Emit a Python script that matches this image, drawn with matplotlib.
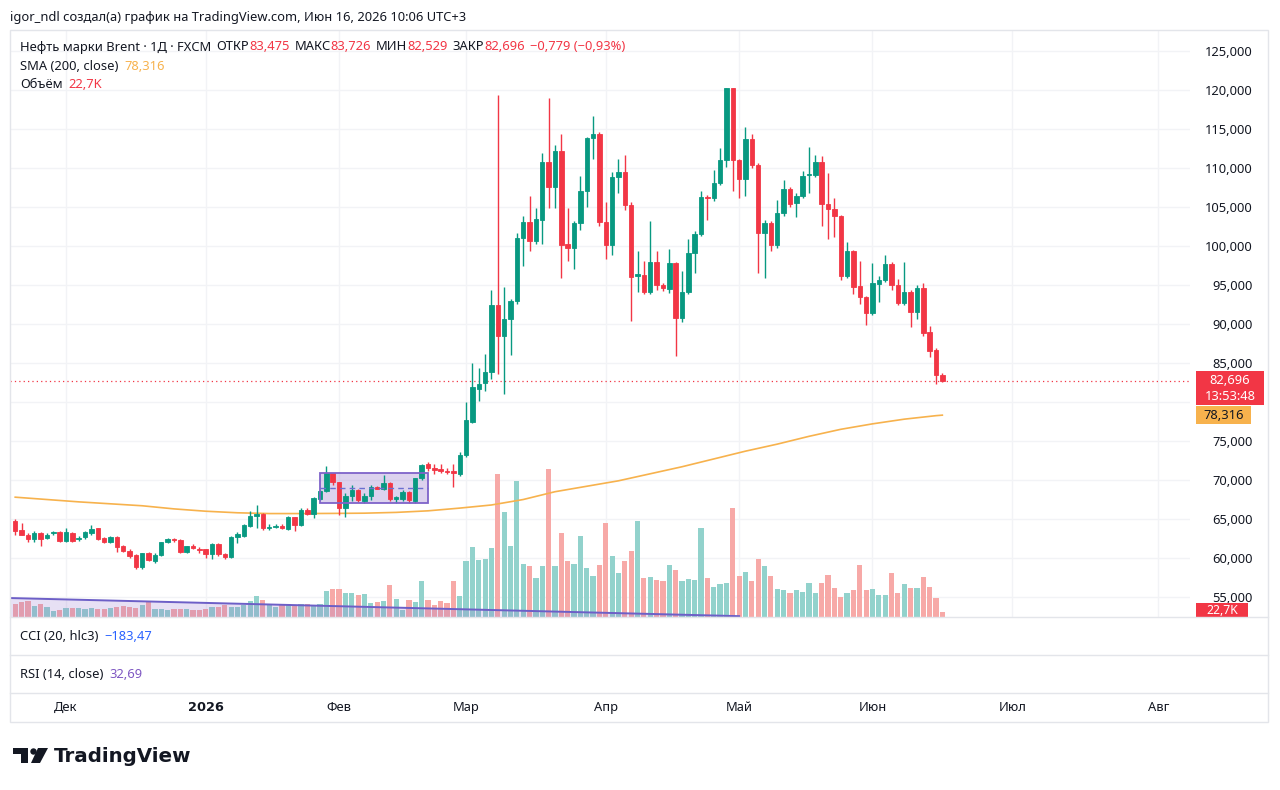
import numpy as np
import pandas as pd
import matplotlib
matplotlib.use("Agg")
import matplotlib.pyplot as plt
import matplotlib.transforms as mtransforms
from matplotlib.patches import Rectangle, Polygon, Circle
from matplotlib.ticker import FuncFormatter

plt.rcParams['font.family'] = ['Noto Sans', 'DejaVu Sans']

# --- daily candles, Brent (FXCM), 19 Nov 2025 .. 16 Jun 2026 ---
opens = [64.8, 63.6, 63.0, 62.5, 63.25, 62.55, 63.2, 63.4, 62.2, 63.25,
         62.4, 62.7, 63.2, 63.8, 62.55, 62.1, 62.65, 61.5, 60.9, 60.4,
         58.8, 60.6, 59.6, 60.4, 62.0, 62.4, 62.3, 60.8, 61.6, 61.2,
         61.1, 60.5, 61.75, 60.55, 60.1, 62.65, 62.8, 64.1, 65.4, 65.6,
         63.8, 64.0, 64.1, 63.7, 65.2, 64.2, 66.15, 65.6, 67.55, 68.6,
         70.85, 69.7, 66.4, 67.9, 68.7, 67.3, 67.9, 69.1, 68.85, 69.65,
         67.6, 67.6, 68.5, 67.3, 70.2, 72.0, 71.5, 71.4, 71.2, 71.15,
         70.8, 73.2, 77.5, 81.7, 82.4, 83.8, 92.5, 88.4, 90.6, 92.9,
         101.0, 103.1, 100.6, 103.3, 110.8, 107.6, 112.2, 100.3, 99.7, 102.9,
         107.0, 113.8, 114.4, 103.1, 100.1, 108.9, 109.5, 105.3, 96.1, 96.3,
         94.1, 97.9, 95.0, 94.5, 97.8, 90.8, 94.1, 99.1, 101.6, 106.3,
         106.1, 108.1, 111.0, 120.2, 111.0, 108.6, 113.7, 110.4, 101.7, 103.0,
         100.1, 104.2, 107.3, 105.5, 106.45, 109.1, 109.1, 110.8, 105.4, 104.8,
         103.9, 96.2, 99.4, 94.9, 93.4, 91.4, 95.1, 95.6, 97.7, 95.0,
         92.7, 94.06, 91.6, 94.65, 89.0, 86.7, 83.475]
highs = [65.0, 64.5, 63.2, 63.5, 63.4, 63.2, 63.5, 63.5, 63.9, 63.4,
         62.8, 63.5, 64.2, 63.9, 62.7, 62.8, 62.8, 61.7, 61.1, 60.5,
         60.7, 60.8, 60.6, 62.1, 62.6, 62.6, 62.4, 61.6, 61.8, 61.4,
         61.2, 61.9, 61.9, 60.7, 62.8, 63.4, 64.4, 66.0, 66.8, 65.8,
         64.3, 64.3, 64.3, 65.4, 65.3, 66.4, 66.4, 67.8, 68.7, 71.8,
         70.9, 69.8, 68.3, 69.4, 68.9, 68.3, 69.3, 69.2, 70.6, 69.7,
         67.9, 68.7, 68.6, 70.3, 72.0, 72.3, 72.1, 72.0, 71.6, 72.1,
         73.6, 80.0, 85.0, 84.3, 86.1, 94.3, 119.3, 94.8, 93.2, 101.7,
         103.8, 106.4, 104.9, 111.9, 119.0, 113.0, 114.3, 104.9, 103.2, 109.0,
         114.0, 116.7, 114.6, 105.7, 109.5, 111.2, 111.7, 105.6, 99.3, 98.1,
         103.2, 99.3, 95.3, 99.6, 98.0, 96.8, 100.9, 101.9, 107.1, 106.6,
         109.7, 112.5, 120.3, 120.3, 111.2, 115.2, 114.3, 110.6, 103.3, 103.2,
         105.9, 108.4, 107.6, 106.8, 109.6, 112.65, 111.7, 111.5, 109.3, 106.2,
         104.0, 100.5, 99.5, 98.1, 93.6, 97.8, 96.15, 98.9, 97.9, 95.8,
         98.0, 94.3, 95.0, 95.3, 89.7, 86.9, 83.726]
lows = [62.95, 62.9, 62.0, 62.0, 61.5, 62.4, 63.0, 62.1, 62.1, 62.1,
        62.2, 62.5, 63.0, 62.3, 61.9, 61.9, 60.8, 60.8, 60.0, 58.6,
        58.6, 59.6, 59.3, 60.3, 61.9, 62.1, 60.6, 60.7, 61.1, 60.6,
        60.0, 59.9, 60.3, 59.9, 60.0, 61.9, 62.7, 64.0, 63.8, 63.6,
        63.6, 63.9, 63.7, 63.6, 63.5, 64.1, 65.5, 65.1, 67.4, 68.5,
        69.3, 65.5, 65.3, 67.3, 67.2, 67.0, 67.4, 68.8, 68.7, 67.3,
        67.0, 67.3, 67.0, 67.1, 70.0, 71.2, 70.8, 70.9, 70.8, 69.15,
        70.5, 72.9, 77.3, 80.1, 81.4, 83.0, 83.6, 81.0, 86.0, 92.6,
        97.5, 99.4, 100.3, 100.3, 104.9, 104.9, 95.9, 98.1, 97.1, 102.0,
        105.0, 111.2, 102.6, 98.3, 98.9, 106.8, 104.6, 90.4, 94.1, 93.8,
        93.9, 94.3, 94.2, 94.0, 85.9, 90.3, 93.8, 96.5, 101.3, 103.3,
        105.8, 107.8, 110.1, 107.0, 106.2, 106.4, 110.0, 96.5, 95.9, 99.4,
        99.8, 103.9, 105.0, 103.75, 106.2, 106.8, 108.9, 102.5, 100.9, 101.2,
        95.7, 95.9, 93.9, 92.6, 89.9, 91.2, 92.8, 95.4, 94.4, 92.5,
        92.5, 89.6, 90.6, 88.4, 85.8, 82.3, 82.529]
closes = [63.5, 63.0, 62.4, 63.25, 62.5, 63.0, 63.35, 62.2, 63.4, 62.2,
          62.6, 63.4, 63.7, 62.4, 62.1, 62.7, 61.45, 60.9, 60.26, 58.8,
          60.6, 59.8, 60.4, 62.05, 62.4, 62.25, 60.8, 61.5, 61.25, 61.0,
          60.5, 61.75, 60.5, 60.1, 62.65, 63.1, 64.2, 65.4, 65.6, 63.8,
          64.0, 64.1, 63.85, 65.2, 64.2, 66.2, 65.6, 67.65, 68.6, 70.85,
          69.7, 66.35, 68.0, 68.7, 67.5, 67.9, 69.1, 68.9, 69.65, 67.6,
          67.8, 68.5, 67.45, 70.2, 71.9, 71.5, 71.3, 71.2, 71.0, 70.9,
          73.2, 77.7, 81.9, 82.37, 83.8, 92.5, 88.4, 90.7, 92.9, 101.0,
          103.1, 100.6, 103.4, 110.8, 107.6, 112.2, 100.1, 99.7, 103.0, 107.1,
          113.9, 114.4, 103.1, 100.1, 108.9, 109.5, 105.3, 96.0, 96.4, 94.1,
          97.9, 95.0, 94.65, 97.8, 90.8, 94.1, 99.1, 101.6, 106.3, 106.1,
          108.1, 111.0, 120.2, 111.0, 108.6, 113.7, 110.4, 101.7, 103.0, 100.1,
          104.2, 107.3, 105.4, 106.45, 109.0, 109.2, 110.8, 105.4, 104.75, 103.9,
          96.1, 99.4, 94.8, 93.4, 91.4, 95.2, 95.6, 97.7, 95.0, 92.7,
          94.06, 91.6, 94.65, 88.9, 86.5, 83.4, 82.696]
volumes_k = [59, 68, 72, 50, 59, 45, 27, 32, 41, 41,
             41, 36, 41, 36, 36, 41, 45, 50, 45, 41,
             54, 72, 36, 36, 32, 36, 36, 36, 32, 32,
             36, 45, 45, 54, 45, 45, 54, 72, 95, 77,
             54, 45, 59, 59, 54, 59, 59, 50, 59, 117,
             126, 126, 108, 108, 99, 104, 63, 68, 72, 144,
             81, 32, 77, 68, 162, 77, 54, 72, 63, 162,
             95, 252, 315, 257, 261, 311, 644, 473, 320, 612,
             239, 230, 176, 230, 666, 230, 378, 252, 239, 365,
             221, 185, 234, 423, 275, 198, 252, 297, 432, 176,
             180, 167, 162, 234, 212, 162, 171, 167, 401, 176,
             135, 149, 153, 491, 185, 203, 162, 261, 230, 185,
             126, 122, 108, 122, 113, 153, 108, 153, 189, 131,
             90, 108, 122, 234, 122, 126, 99, 99, 198, 108,
             149, 131, 131, 180, 135, 86, 22.7]

# SMA(200, close), every 5 bars
sma_idx = [0, 5, 10, 15, 20, 25, 30, 35, 40, 45, 50, 55, 60, 65, 70,
           75, 80, 85, 90, 95, 100, 105, 110, 115, 120, 125, 130, 135, 140, 145, 146]
sma_vals = [67.8, 67.5, 67.2, 66.95, 66.7, 66.3, 66.0, 65.8, 65.7, 65.7, 65.72,
            65.75, 65.85, 66.05, 66.4, 66.8, 67.5, 68.5, 69.2, 69.9, 70.8, 71.7,
            72.7, 73.7, 74.6, 75.6, 76.5, 77.2, 77.8, 78.25, 78.316]

month_labels = ['Дек', '2026', 'Фев', 'Мар', 'Апр', 'Май', 'Июн', 'Июл', 'Авг']
holidays = pd.to_datetime(['2025-12-25', '2026-01-01', '2026-04-03'])

# user drawings: range box and the shaded wedge under volume
range_box = dict(start=48, end=65, low=67.0, high=70.9)
wedge = dict(x0=-0.8, y0=54.87, x1=114, y1=52.55)

last_price = 82.696
sma_last = 78.316

GREEN, RED = '#089981', '#f23645'
VOL_UP, VOL_DN = '#92d2cc', '#f7a9a7'
ORANGE = '#f7b24d'
TXT = '#131722'
GRID = '#f2f3f6'
BORDER = '#e3e5ea'
FS = 9.3

W, H = 1280, 790


def frect(x0, y0, x1, y1):
    return [x0 / W, 1 - y1 / H, (x1 - x0) / W, (y1 - y0) / H]


def price_label(v, _):
    # the scale label sitting under the last-price badge is hidden, as on TradingView
    if last_price - 3.5 < v < last_price + 1.3:
        return ''
    return f"{v:.3f}".replace('.', ',')


days = pd.bdate_range('2025-11-19', '2026-08-31')
days = days[~days.isin(holidays)]
pos = pd.Series(np.arange(len(days)), index=days)
month_first = pos.groupby([days.year, days.month]).first().values[1:]

n = len(closes)
idx = np.arange(n)
o = np.array(opens)
c = np.array(closes)
up = c >= o
col = np.where(up, GREEN, RED)

fig = plt.figure(figsize=(W / 100, H / 100), dpi=100)
fig.patch.set_facecolor('white')

ax_bg = fig.add_axes(frect(10, 30, 1190, 617))
axv = fig.add_axes(frect(10, 30, 1190, 617), sharex=ax_bg)
ax = fig.add_axes(frect(10, 30, 1190, 617), sharex=ax_bg, sharey=ax_bg)
ax_t = fig.add_axes(frect(10, 693, 1190, 722), sharex=ax_bg)
for a, z in ((ax_bg, 0), (axv, 1), (ax, 2), (ax_t, 0)):
    a.set_zorder(z)
    for s in a.spines.values():
        s.set_visible(False)
axv.patch.set_visible(False)
ax.patch.set_visible(False)

ax_bg.set_xlim(-0.82, 185.0)
ax_bg.set_ylim(52.44, 127.69)

# grid + price scale
ax_bg.set_xticks(month_first)
ax_bg.set_yticks(np.arange(55, 126, 5))
ax_bg.grid(True, color=GRID, lw=1)
ax_bg.tick_params(axis='x', length=0, labelbottom=False)
ax_bg.yaxis.tick_right()
ax_bg.tick_params(axis='y', length=0, pad=45, labelsize=FS, labelcolor=TXT)
ax_bg.yaxis.set_major_formatter(FuncFormatter(price_label))
for lbl in ax_bg.get_yticklabels():
    lbl.set_ha('right')

# volume
axv.bar(idx, volumes_k, width=0.82, color=np.where(up, VOL_UP, VOL_DN), lw=0)
axv.set_ylim(0, 2641.5)
axv.tick_params(left=False, labelleft=False, bottom=False, labelbottom=False)

# candles
ax.vlines(idx, lows, highs, colors=col, lw=1, zorder=3)
ax.bar(idx, np.abs(c - o), bottom=np.minimum(o, c), width=0.7, color=col,
       edgecolor=col, lw=0.6, zorder=4)
ax.plot(sma_idx, sma_vals, color=ORANGE, lw=1.2, zorder=2)
ax.axhline(last_price, color=RED, lw=0.9, ls=(0, (1, 2.5)), zorder=1)

# range box drawing
rb = range_box
ax.add_patch(Rectangle((rb['start'], rb['low']), rb['end'] - rb['start'], rb['high'] - rb['low'],
                       facecolor='#9575cd', alpha=0.32, edgecolor='none', zorder=1))
ax.add_patch(Rectangle((rb['start'], rb['low']), rb['end'] - rb['start'], rb['high'] - rb['low'],
                       facecolor='none', edgecolor='#7e63c9', lw=1.3, zorder=5))
ax.plot([rb['start'], rb['end']], [(rb['low'] + rb['high']) / 2] * 2,
        color='#6a6fd0', lw=1, ls=(0, (4, 3)), zorder=5)

# wedge drawing
ybot = ax_bg.get_ylim()[0]
ax.add_patch(Polygon([(wedge['x0'], wedge['y0']), (wedge['x1'], wedge['y1']),
                      (wedge['x1'], ybot), (wedge['x0'], ybot)],
                     facecolor='#9575cd', alpha=0.22, edgecolor='none', zorder=2))
ax.plot([wedge['x0'], wedge['x1']], [wedge['y0'], wedge['y1']], color='#6d5fc7', lw=1.4, zorder=3)
ax.tick_params(left=False, labelleft=False, right=False, labelright=False,
               bottom=False, labelbottom=False)

# time axis
ax_t.tick_params(left=False, labelleft=False, bottom=False, labelbottom=False)
tt = mtransforms.blended_transform_factory(ax_t.transData, ax_t.transAxes)
for m, lab in zip(month_first, month_labels):
    if lab == '2026':
        ax_t.text(m, 0.5, lab, transform=tt, ha='center', va='center', fontsize=FS,
                  color=TXT, family='DejaVu Sans', fontweight='bold')
    else:
        ax_t.text(m, 0.5, lab, transform=tt, ha='center', va='center', fontsize=FS, color=TXT)

# overlay in pixel coordinates for the chrome
ov = fig.add_axes([0, 0, 1, 1])
ov.set_xlim(0, W)
ov.set_ylim(H, 0)
ov.axis('off')
ov.set_zorder(10)
ov.patch.set_visible(False)

ov.add_patch(Rectangle((10, 30), 1258, 692, facecolor='none', edgecolor=BORDER, lw=1))
for yy in (617, 655, 693):
    ov.plot([10, 1268], [yy, yy], color=BORDER, lw=1)

ov.text(10, 17, 'igor_ndl создал(а) график на TradingView.com, Июн 16, 2026 10:06 UTC+3',
        fontsize=FS, color=TXT, va='center')

renderer = fig.canvas.get_renderer()


def chain(x, y, pieces):
    # lay out coloured pieces one after another on one line
    for s, cc, gap in pieces:
        t = ov.text(x, y, s, fontsize=FS, color=cc, va='center')
        x += t.get_window_extent(renderer).width + gap


chain(20, 47, [('Нефть марки Brent · 1Д · FXCM', TXT, 5), ('ОТКР', TXT, 0),
               ('83,475', RED, 5), ('МАКС', TXT, 0), ('83,726', RED, 5),
               ('МИН', TXT, 0), ('82,529', RED, 5), ('ЗАКР', TXT, 0),
               ('82,696', RED, 5), ('−0,779 (−0,93%)', RED, 0)])
chain(20, 66, [('SMA (200, close)', TXT, 6), ('78,316', ORANGE, 0)])
chain(20, 85, [('Объём', TXT, 6), ('22,7K', RED, 0)])
chain(20, 636, [('CCI (20, hlc3)', TXT, 6), ('−183,47', '#2962ff', 0)])
chain(20, 674, [('RSI (14, close)', TXT, 6), ('32,69', '#7e57c2', 0)])


def price_px(p):
    return H - ax_bg.transData.transform((0, p))[1]


yl = price_px(last_price)
ov.add_patch(Rectangle((1196, yl - 10), 68, 34, facecolor=RED, edgecolor='none'))
ov.text(1230, yl, f"{last_price:.3f}".replace('.', ','), color='white', fontsize=FS,
        ha='center', va='center')
ov.text(1230, yl + 16, '13:53:48', color='white', fontsize=FS, ha='center', va='center')
ys = price_px(sma_last)
ov.add_patch(Rectangle((1196, ys - 9), 55, 18, facecolor=ORANGE, edgecolor='none'))
ov.text(1223.5, ys, f"{sma_last:.3f}".replace('.', ','), color=TXT, fontsize=FS,
        ha='center', va='center')
ov.add_patch(Rectangle((1196, 603), 52, 14, facecolor=RED, edgecolor='none'))
ov.text(1222, 610, '22,7K', color='white', fontsize=8.8, ha='center', va='center')

# TradingView logo
ov.add_patch(Polygon([(13, 748), (28, 748), (28, 763), (21, 763), (21, 754), (13, 754)],
                     facecolor=TXT, edgecolor='none'))
ov.add_patch(Circle((33.5, 751.5), 3.2, facecolor=TXT, edgecolor='none'))
ov.add_patch(Polygon([(38, 748), (48, 748), (40, 763), (31, 763)], facecolor=TXT,
                     edgecolor='none'))
ov.text(54, 756, 'TradingView', fontsize=14.3, fontweight='bold', family='DejaVu Sans',
        color=TXT, va='center')

fig.savefig('out.png', dpi=100)
